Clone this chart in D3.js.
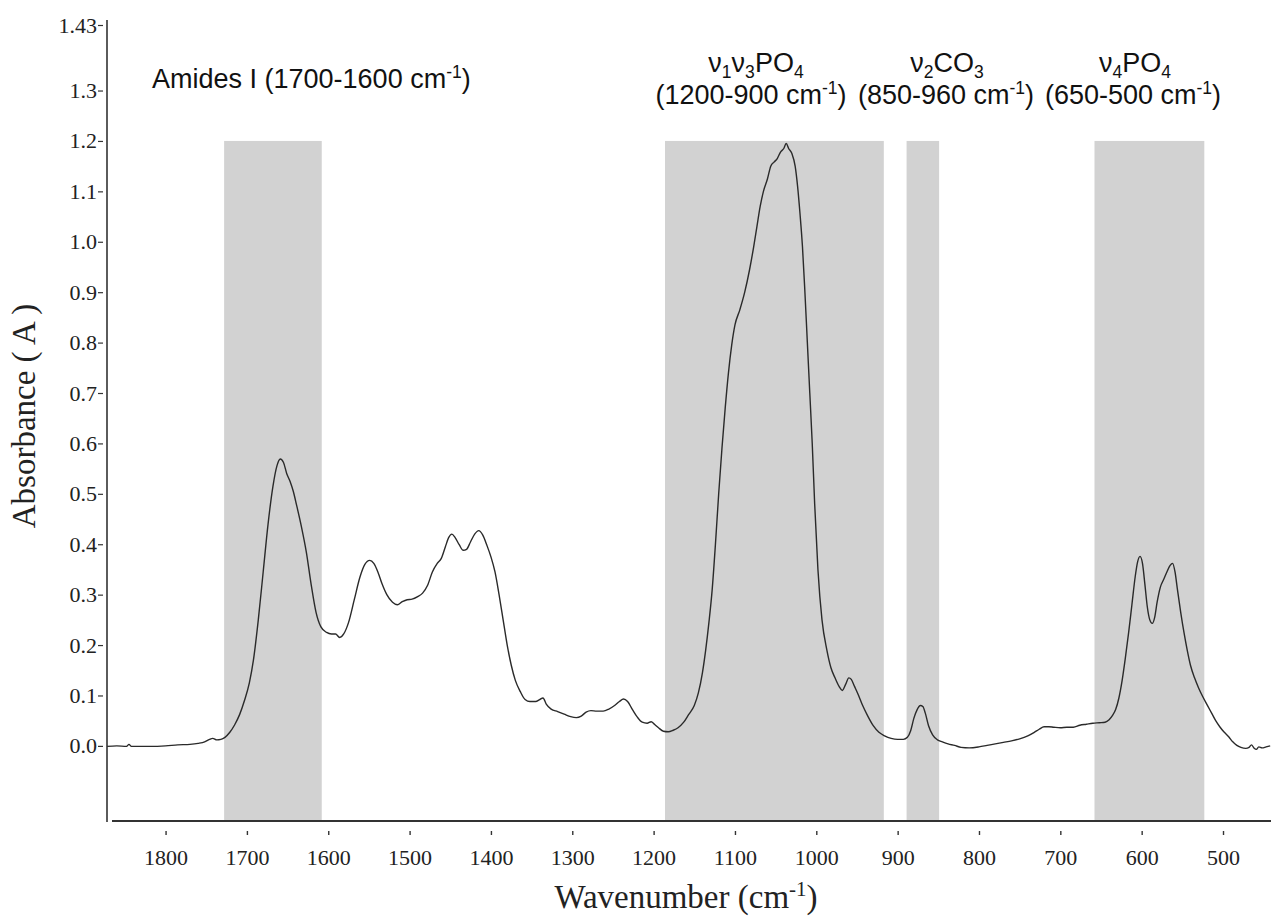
<!DOCTYPE html>
<html><head><meta charset="utf-8">
<script src="https://cdn.jsdelivr.net/npm/d3@7"></script>
<style>body{margin:0;background:#fff}svg{display:block}</style>
</head><body><svg id="c" width="1271" height="916"></svg>
<script>
// ---- data ----
const wavenumbers = [1872,1860,1848,1845,1842,1820,1800,1785,1770,1760,1752,1746,1742,1737,1732,1727,1721,1715,1709,1703,1697,1692,1686,1680,1674,1668,1663,1659,1655,1651,1647,1643,1639,1633,1627,1621,1615,1609,1602,1596,1591,1586,1581,1575,1568,1561,1555,1549,1544,1539,1534,1528,1521,1515,1509,1503,1497,1490,1484,1478,1472,1466,1461,1456,1452,1448,1444,1439,1434,1430,1425,1420,1415,1410,1405,1400,1395,1390,1385,1380,1375,1370,1364,1358,1352,1345,1340,1336,1332,1326,1318,1310,1302,1295,1289,1283,1277,1270,1262,1255,1248,1242,1237,1232,1226,1220,1214,1208,1203,1199,1194,1188,1182,1176,1170,1163,1157,1150,1145,1140,1136,1132,1128,1124,1120,1116,1112,1108,1104,1100,1094,1088,1082,1077,1073,1069,1065,1060,1056,1052,1048,1044,1040,1037,1034,1030,1026,1023,1020,1017,1014,1011,1008,1005,1002,998,993,987,982,977,972,968,964,960,957,953,948,943,937,930,923,916,908,900,893,888,884,880,876,872,869,866,862,857,851,845,838,830,822,812,800,790,780,770,760,750,740,732,726,720,714,708,700,692,684,676,668,660,652,645,640,636,632,628,624,620,616,612,608,605,602,599,596,593,590,587,584,581,577,573,569,565,562,559,556,552,548,544,540,535,530,525,519,514,509,504,499,493,488,483,478,472,468,465,462,459,456,452,447,442];
const absorbance = [-0.001,0.000,-0.001,0.003,-0.001,-0.001,0.000,0.002,0.003,0.005,0.008,0.013,0.015,0.012,0.013,0.017,0.027,0.042,0.062,0.09,0.125,0.17,0.25,0.345,0.44,0.515,0.556,0.569,0.562,0.54,0.525,0.505,0.478,0.435,0.385,0.32,0.265,0.236,0.225,0.222,0.222,0.215,0.222,0.245,0.29,0.335,0.36,0.368,0.362,0.345,0.322,0.3,0.285,0.28,0.286,0.29,0.291,0.296,0.303,0.318,0.345,0.362,0.372,0.395,0.413,0.42,0.413,0.399,0.388,0.39,0.405,0.42,0.427,0.418,0.398,0.375,0.345,0.3,0.25,0.2,0.16,0.13,0.108,0.092,0.088,0.088,0.092,0.095,0.083,0.073,0.068,0.063,0.058,0.056,0.059,0.067,0.07,0.069,0.069,0.073,0.08,0.088,0.093,0.088,0.072,0.057,0.047,0.045,0.048,0.043,0.036,0.029,0.028,0.031,0.036,0.047,0.062,0.08,0.105,0.145,0.19,0.245,0.31,0.4,0.5,0.59,0.67,0.74,0.795,0.835,0.865,0.9,0.945,0.99,1.03,1.07,1.1,1.125,1.15,1.158,1.165,1.178,1.185,1.195,1.185,1.175,1.15,1.11,1.055,0.99,0.9,0.8,0.7,0.6,0.48,0.35,0.25,0.19,0.155,0.135,0.118,0.11,0.122,0.135,0.132,0.118,0.1,0.08,0.06,0.04,0.027,0.02,0.015,0.013,0.013,0.017,0.03,0.055,0.072,0.08,0.078,0.065,0.04,0.022,0.012,0.008,0.004,0.001,-0.003,-0.004,-0.002,0.001,0.004,0.007,0.01,0.014,0.02,0.027,0.033,0.038,0.038,0.037,0.036,0.037,0.037,0.041,0.043,0.045,0.046,0.047,0.052,0.06,0.072,0.095,0.13,0.175,0.225,0.28,0.335,0.365,0.376,0.362,0.32,0.275,0.25,0.243,0.255,0.285,0.315,0.33,0.345,0.358,0.362,0.345,0.31,0.265,0.225,0.19,0.16,0.135,0.115,0.098,0.08,0.065,0.05,0.038,0.028,0.018,0.008,0.001,-0.003,-0.005,-0.003,0.002,-0.004,-0.007,-0.002,-0.004,-0.002,0.0];

const bandStart = [1728, 1186, 889, 658];
const bandEnd   = [1608, 917, 849, 523];
const bandTop = 1.2;

const xTicks = [1800,1700,1600,1500,1400,1300,1200,1100,1000,900,800,700,600,500];
const yTicks = [0,0.1,0.2,0.3,0.4,0.5,0.6,0.7,0.8,0.9,1.0,1.1,1.2,1.3,1.43];
const yTickLabels = ["0.0","0.1","0.2","0.3","0.4","0.5","0.6","0.7","0.8","0.9","1.0","1.1","1.2","1.3","1.43"];

// ---- chart ----
const svg = d3.select("#c");
const x = d3.scaleLinear().domain([1872, 441]).range([107, 1271]);
const y = d3.scaleLinear().domain([-0.149, 1.43]).range([821, 25]);

const serif = "'Liberation Serif','Times New Roman',serif";
const sans = "'Liberation Sans',Arial,sans-serif";

// bands
svg.append("g").selectAll("rect").data(bandStart.map((s,i)=>({s, e: bandEnd[i]})))
  .join("rect")
  .attr("x", d => x(d.s)).attr("width", d => x(d.e) - x(d.s))
  .attr("y", y(bandTop)).attr("height", y(-0.149) - y(bandTop))
  .attr("fill", "#d2d2d2");

// curve
const pts = wavenumbers.map((w,i)=>[w, absorbance[i]]);
svg.append("path").datum(pts)
  .attr("d", d3.line().x(d=>x(d[0])).y(d=>y(d[1])).curve(d3.curveMonotoneX))
  .attr("fill","none").attr("stroke","#2a2a2a").attr("stroke-width",1.4);

// y axis line
svg.append("line").attr("x1",107).attr("x2",107).attr("y1",20).attr("y2",822)
  .attr("stroke","#333").attr("stroke-width",1.6);
// x axis line
svg.append("line").attr("x1",112).attr("x2",1271).attr("y1",821).attr("y2",821)
  .attr("stroke","#333").attr("stroke-width",1.8);

// y axis ticks/labels
const yAxis = d3.axisLeft(y).tickValues(yTicks).tickSize(5).tickPadding(1)
  .tickFormat((d,i)=>yTickLabels[i]);
const gy = svg.append("g").attr("transform","translate(103,0)").call(yAxis);
gy.select(".domain").remove();
gy.selectAll(".tick line").attr("stroke","#333").attr("stroke-width",1.2);
gy.selectAll("text").attr("font-family",serif).attr("font-size",22).attr("fill","#222");

// x axis ticks/labels
const xAxis = d3.axisBottom(x).tickValues(xTicks).tickSize(4).tickPadding(14)
  .tickFormat(d3.format("d"));
const gx = svg.append("g").attr("transform","translate(0,831)").call(xAxis);
gx.select(".domain").remove();
gx.selectAll(".tick line").attr("stroke","#333").attr("stroke-width",1.4);
gx.selectAll("text").attr("font-family",serif).attr("font-size",22).attr("fill","#222");

// axis titles
const xt = svg.append("text").attr("x",686).attr("y",908).attr("text-anchor","middle")
  .attr("font-family",serif).attr("font-size",33).attr("fill","#222");
xt.append("tspan").text("Wavenumber (cm");
xt.append("tspan").attr("dy",-12).attr("font-size",21).text("-1");
xt.append("tspan").attr("dy",12).text(")");

svg.append("text").attr("transform","translate(35,416) rotate(-90)").attr("text-anchor","middle")
  .attr("font-family",serif).attr("font-size",33).attr("fill","#222").text("Absorbance ( A )");

// annotations
const fs = 27;
function label(xc, yb, parts, anchor){
  const t = svg.append("text").attr("x",xc).attr("y",yb).attr("text-anchor",anchor||"middle")
    .attr("font-family",sans).attr("font-size",fs).attr("fill","#111");
  parts.forEach(p=>{
    const s = t.append("tspan").text(p.t);
    if (p.sub){ s.attr("font-size",fs*0.65).attr("dy",6); }
    else if (p.sup){ s.attr("font-size",fs*0.65).attr("dy",-10); }
    if (p.dy) s.attr("dy", p.dy);
  });
  return t;
}
label(152, 88, [{t:"Amides I (1700-1600 cm"},{t:"-1",sup:true},{t:")",dy:10}], "start");

label(756, 72, [{t:"ν"},{t:"1",sub:true},{t:"ν",dy:-6},{t:"3",sub:true},{t:"PO",dy:-6},{t:"4",sub:true}]);
label(751, 104, [{t:"(1200-900 cm"},{t:"-1",sup:true},{t:")",dy:10}]);
label(947, 72, [{t:"ν"},{t:"2",sub:true},{t:"CO",dy:-6},{t:"3",sub:true}]);
label(946, 104, [{t:"(850-960 cm"},{t:"-1",sup:true},{t:")",dy:10}]);
label(1135, 72, [{t:"ν"},{t:"4",sub:true},{t:"PO",dy:-6},{t:"4",sub:true}]);
label(1133, 104, [{t:"(650-500 cm"},{t:"-1",sup:true},{t:")",dy:10}]);
</script>
</body></html>
